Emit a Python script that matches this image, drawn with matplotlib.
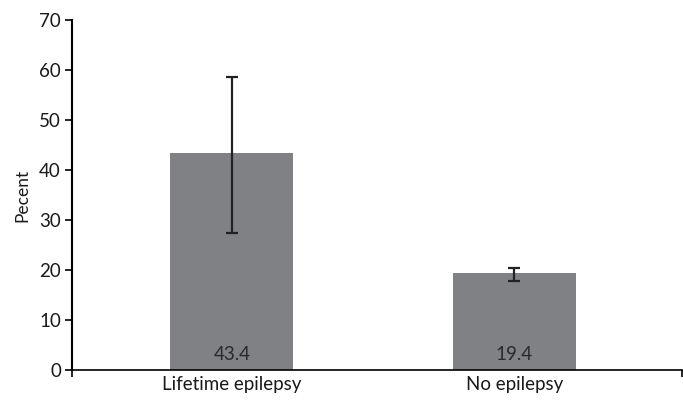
import matplotlib.pyplot as plt

# group labels, bar heights and error bar limits
groups = ["Lifetime epilepsy", "No epilepsy"]
percent = [43.4, 19.4]
ci_low = [27.4, 17.8]
ci_high = [58.6, 20.4]

plt.rcParams['font.family'] = ['Lato', 'DejaVu Sans']

fig = plt.figure(figsize=(6.83, 4.0), dpi=100)
ax = fig.add_axes([0.1054, 0.075, 0.893, 0.875])

x = [0, 1]
err = [[p - lo for p, lo in zip(percent, ci_low)],
       [hi - p for p, hi in zip(percent, ci_high)]]

ax.bar(x, percent, width=0.435, color='#808185', zorder=2)
ax.errorbar(x, percent, yerr=err, fmt='none', ecolor='#222222',
            elinewidth=1.6, capsize=4.5, capthick=1.6, zorder=3)

# value printed at the foot of each bar
for xi, p in zip(x, percent):
    ax.text(xi, 1.3, f"{p}", ha='center', va='bottom', fontsize=13.5, color='#2a2a2a')

ax.set_xlim(-0.566, 1.593)
ax.set_ylim(0, 70)
ax.set_yticks(range(0, 71, 10))
ax.set_xticks(x)
ax.set_xticklabels(groups, fontsize=13.5, color='#1a1a1a')
ax.tick_params(axis='x', length=0, pad=4)
ax.tick_params(axis='y', direction='out', length=5, width=1.2, labelsize=13.5,
               labelcolor='#1a1a1a', pad=3)

# small boundary ticks at both ends of the category axis
ax.set_xticks([-0.566, 1.593], minor=True)
ax.tick_params(axis='x', which='minor', direction='out', length=5, width=1.2)

ax.set_ylabel("Pecent", fontsize=12.5, labelpad=6, color='#1a1a1a')

for side in ['top', 'right']:
    ax.spines[side].set_visible(False)
ax.spines['left'].set_linewidth(1.5)
ax.spines['bottom'].set_linewidth(1.2)

fig.savefig("out.png", dpi=100)
